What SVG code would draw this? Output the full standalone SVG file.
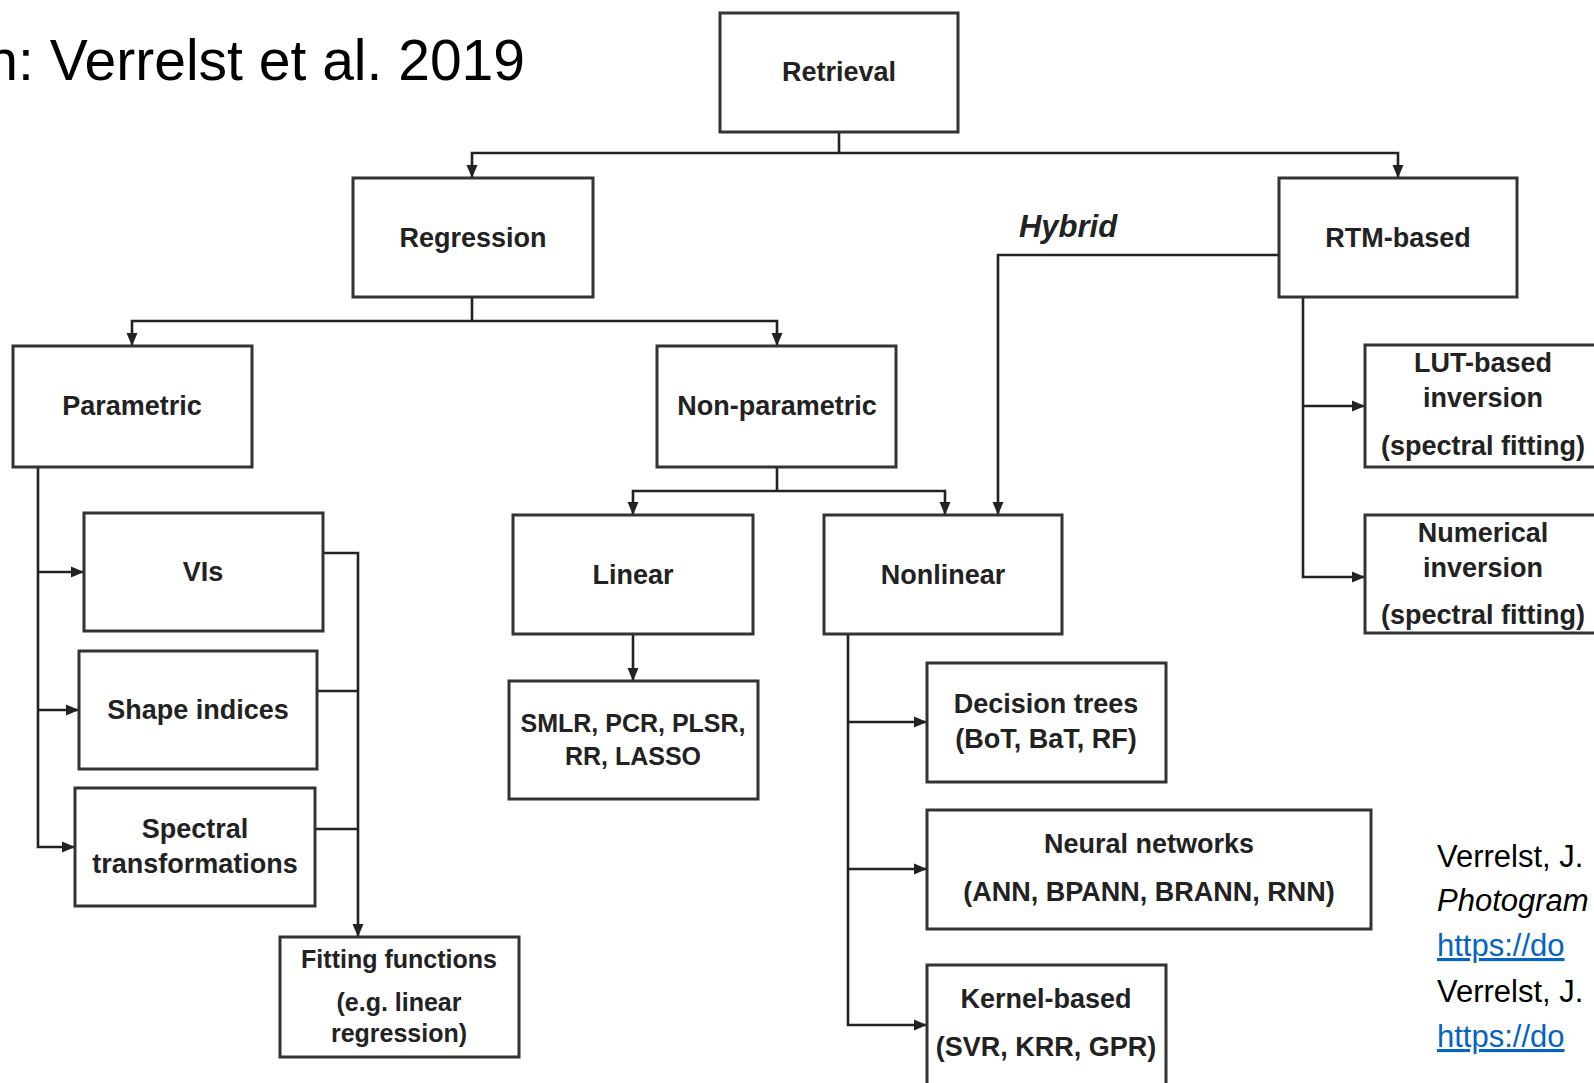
<svg xmlns="http://www.w3.org/2000/svg" width="1594" height="1083" viewBox="0 0 1594 1083">
<defs>
<marker id="ah" markerUnits="userSpaceOnUse" markerWidth="14" markerHeight="14" viewBox="0 0 14 14" refX="13" refY="7" orient="auto">
<path d="M0,1.5 L13,7 L0,12.5 z" fill="#222"/>
</marker>
<style>
.box{fill:#fff;stroke:#333;stroke-width:3}
.t{font-family:"Liberation Sans",Arial,sans-serif;font-weight:bold;font-size:27px;fill:#222;text-anchor:middle}
.ts{font-size:25px}
.c{fill:none;stroke:#222;stroke-width:2.6}
.a{marker-end:url(#ah)}
.ref{font-family:"Liberation Sans",Arial,sans-serif;font-size:31px;fill:#000}
.link{fill:#0563C1;text-decoration:underline}
</style>
</defs>
<rect width="1594" height="1083" fill="#fff"/>
<text x="525" y="80" font-family="Liberation Sans, Arial, sans-serif" font-size="57" fill="#000" text-anchor="end">n: Verrelst et al. 2019</text>

<g id="connectors">
<path class="c" d="M839,132 V153"/>
<path class="c a" d="M839,153 H472 V178"/>
<path class="c a" d="M839,153 H1398 V178"/>
<path class="c" d="M472,297 V321"/>
<path class="c a" d="M472,321 H132 V346"/>
<path class="c a" d="M472,321 H777 V346"/>
<path class="c a" d="M38,467 V847 H75"/>
<path class="c a" d="M38,572 H84"/>
<path class="c a" d="M38,710 H79"/>
<path class="c a" d="M323,553 H358 V937"/>
<path class="c" d="M317,691 H358"/>
<path class="c" d="M315,829 H358"/>
<path class="c" d="M777,467 V491"/>
<path class="c a" d="M777,491 H633 V515"/>
<path class="c a" d="M777,491 H945 V515"/>
<path class="c a" d="M1279,255 H998 V515"/>
<path class="c a" d="M633,634 V681"/>
<path class="c a" d="M848,634 V1025 H927"/>
<path class="c a" d="M848,722 H927"/>
<path class="c a" d="M848,869 H927"/>
<path class="c a" d="M1303,297 V577 H1365"/>
<path class="c a" d="M1303,406 H1365"/>
</g>
<text x="1068" y="237" font-family="Liberation Sans, Arial, sans-serif" font-weight="bold" font-style="italic" font-size="31" fill="#222" text-anchor="middle">Hybrid</text>

<g id="retrieval"><rect class="box" x="720" y="13" width="238" height="119"/><text class="t" x="839" y="81">Retrieval</text></g>
<g id="regression"><rect class="box" x="353" y="178" width="240" height="119"/><text class="t" x="473" y="247">Regression</text></g>
<g id="rtm"><rect class="box" x="1279" y="178" width="238" height="119"/><text class="t" x="1398" y="247">RTM-based</text></g>
<g id="parametric"><rect class="box" x="13" y="346" width="239" height="121"/><text class="t" x="132" y="415">Parametric</text></g>
<g id="nonparametric"><rect class="box" x="657" y="346" width="239" height="121"/><text class="t" x="777" y="415">Non-parametric</text></g>
<g id="vis"><rect class="box" x="84" y="513" width="239" height="118"/><text class="t" x="203" y="581">VIs</text></g>
<g id="shape"><rect class="box" x="79" y="651" width="238" height="118"/><text class="t" x="198" y="719">Shape indices</text></g>
<g id="spectral"><rect class="box" x="75" y="788" width="240" height="118"/><text class="t" x="195" y="838">Spectral</text><text class="t" x="195" y="873">transformations</text></g>
<g id="fitting"><rect class="box" x="280" y="937" width="239" height="120"/><text class="t ts" x="399" y="968">Fitting functions</text><text class="t ts" x="399" y="1011">(e.g. linear</text><text class="t ts" x="399" y="1042">regression)</text></g>
<g id="linear"><rect class="box" x="513" y="515" width="240" height="119"/><text class="t" x="633" y="584">Linear</text></g>
<g id="nonlinear"><rect class="box" x="824" y="515" width="238" height="119"/><text class="t" x="943" y="584">Nonlinear</text></g>
<g id="smlr"><rect class="box" x="509" y="681" width="249" height="118"/><text class="t ts" x="633" y="732">SMLR, PCR, PLSR,</text><text class="t ts" x="633" y="765">RR, LASSO</text></g>
<g id="trees"><rect class="box" x="927" y="663" width="239" height="119"/><text class="t" x="1046" y="713">Decision trees</text><text class="t" x="1046" y="748">(BoT, BaT, RF)</text></g>
<g id="neural"><rect class="box" x="927" y="810" width="444" height="119"/><text class="t" x="1149" y="853">Neural networks</text><text class="t" x="1149" y="901">(ANN, BPANN, BRANN, RNN)</text></g>
<g id="kernel"><rect class="box" x="927" y="965" width="239" height="130"/><text class="t" x="1046" y="1008">Kernel-based</text><text class="t" x="1046" y="1056">(SVR, KRR, GPR)</text></g>
<g id="lut"><rect class="box" x="1365" y="345" width="250" height="122"/><text class="t" x="1483" y="372">LUT-based</text><text class="t" x="1483" y="407">inversion</text><text class="t" x="1483" y="455">(spectral fitting)</text></g>
<g id="numerical"><rect class="box" x="1365" y="515" width="250" height="118"/><text class="t" x="1483" y="542">Numerical</text><text class="t" x="1483" y="577">inversion</text><text class="t" x="1483" y="624">(spectral fitting)</text></g>

<g id="references">
<text class="ref" x="1437" y="867">Verrelst, J.</text>
<text class="ref" x="1437" y="911" font-style="italic">Photogram</text>
<text class="ref link" x="1437" y="956">https://do</text>
<text class="ref" x="1437" y="1002">Verrelst, J.</text>
<text class="ref link" x="1437" y="1047">https://do</text>
</g>
</svg>
